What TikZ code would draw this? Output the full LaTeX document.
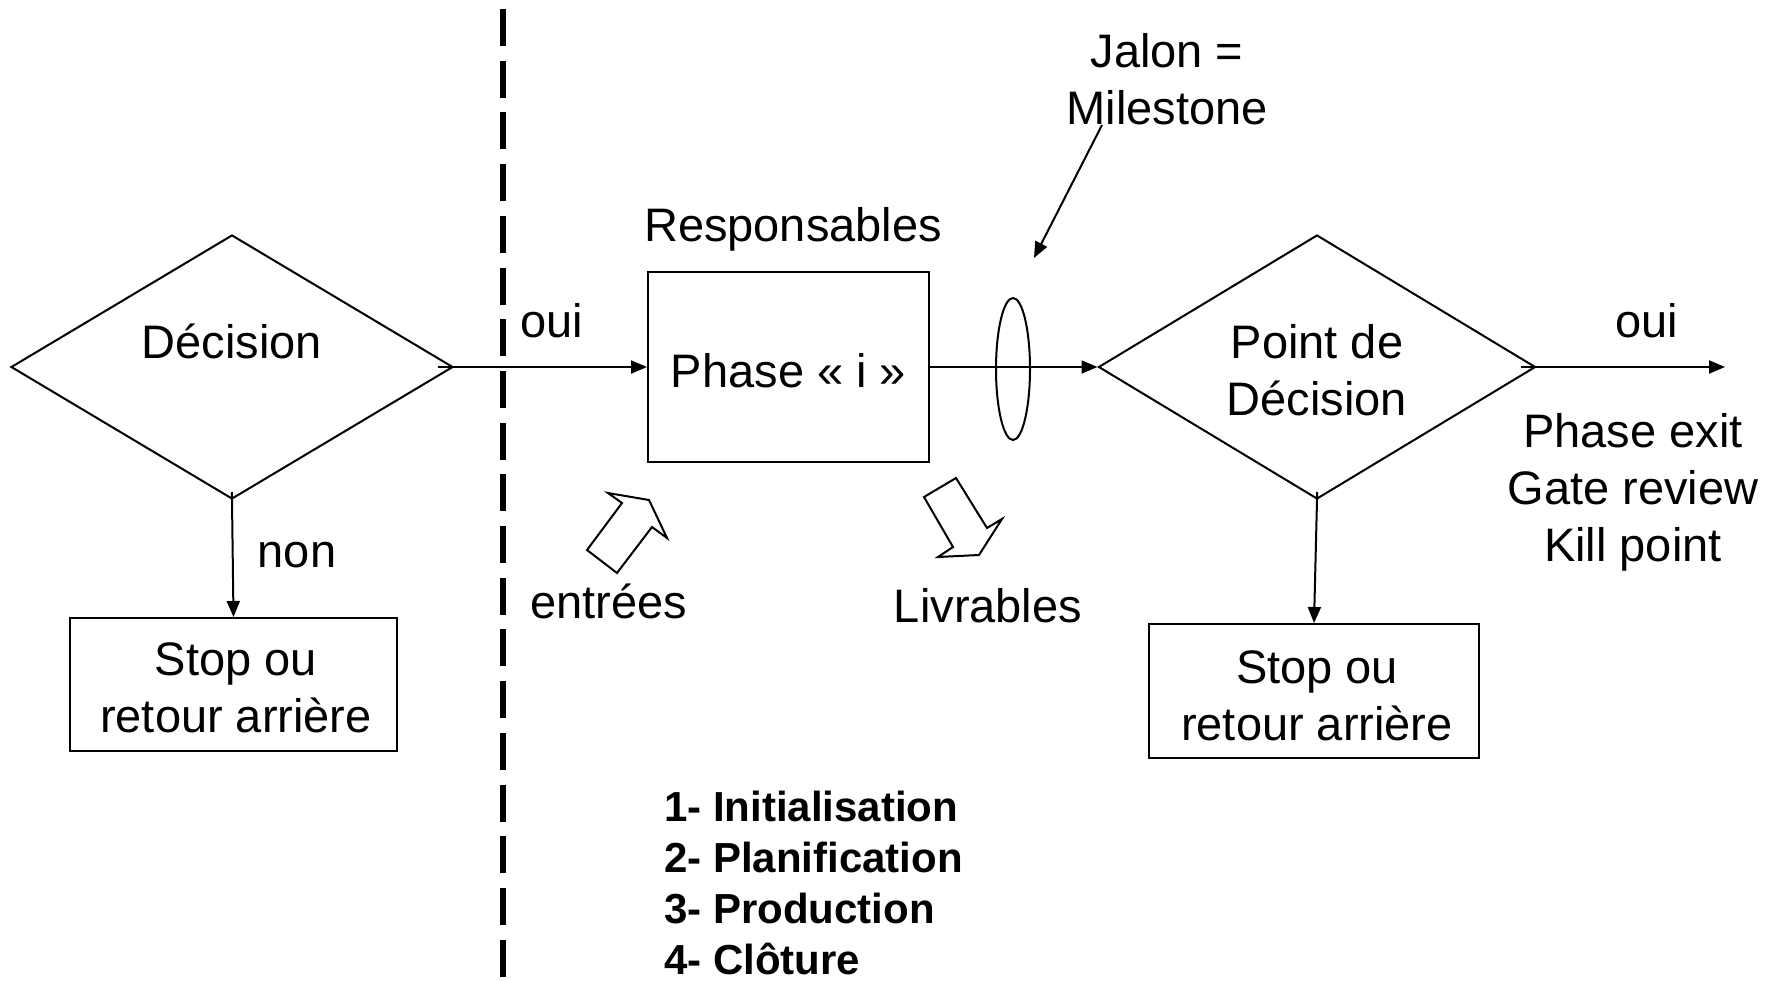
\documentclass[tikz,border=0pt]{standalone}
\usepackage{fontspec}
\setmainfont{Liberation Sans}
\usetikzlibrary{shapes.geometric,arrows.meta}
\begin{document}
\begin{tikzpicture}[x=1pt,y=-1pt,
  every node/.style={inner sep=0pt},
  lbl/.style={font=\fontsize{47}{57}\selectfont, align=center},
  listitem/.style={font=\fontsize{42}{51}\selectfont\bfseries, anchor=base west},
  decision/.style={draw, line width=2pt, diamond, minimum width=#1, minimum height=264pt},
  boxnode/.style={draw, line width=2pt, rectangle},
  conn/.style={line width=2pt, -{Triangle[length=16pt,width=13pt]}},
  blockarrow/.style={draw, line width=2pt, fill=white, line join=miter},
  separator/.style={line width=6pt, dash pattern=on 37pt off 14.7pt}
]
\useasboundingbox (0,0) rectangle (1777,980);

% vertical separator
\coordinate (septop) at (503,9);
\coordinate (sepbot) at (503,980);
\draw[separator] (septop) -- (sepbot);

% left decision
\node[decision=442pt] (d1) at (232,367) {};
\node[lbl] (d1t) at (232,341) {Décision};
\node[boxnode, minimum width=327pt, minimum height=133pt] (s1) at (233.5,684.5) {};
\node[lbl] (s1t) at (236,688) {Stop ou\\retour arrière};
\node[lbl] (non) at (297,555) {non};

% phase box
\node[boxnode, minimum width=281pt, minimum height=190pt] (ph) at (788.5,367) {};
\node[lbl] (pht) at (788.5,370.5) {Phase « i »};
\node[lbl] (resp) at (793,229) {Responsables};
\node[lbl] (oui1) at (552,321) {oui};

% milestone
\node[draw, ellipse, line width=2pt, minimum width=34pt, minimum height=142pt] (jal) at (1013,369) {};
\node[lbl] (jalon) at (1167,79) {Jalon =\\Milestone};
\coordinate (ms0) at (1102,125);
\coordinate (ms1) at (1034,258);

% right decision
\node[decision=437pt] (d2) at (1317,367) {};
\node[lbl] (d2t) at (1317,370) {Point de\\Décision};
\node[boxnode, minimum width=330pt, minimum height=134pt] (s2) at (1314,691) {};
\node[lbl] (s2t) at (1317,696) {Stop ou\\retour arrière};
\node[lbl] (oui2) at (1647,321) {oui};
\node[lbl] (gate) at (1633,492) {Phase exit\\Gate review\\Kill point};
\coordinate (out) at (1725,367);

% inputs / deliverables
\draw[blockarrow] (587,550) -- (617,573) -- (652,527) -- (667,538) -- (649,500) -- (608,493) -- (622,503) -- cycle;
\draw[blockarrow] (924,497) -- (956,478) -- (987,528) -- (1002,519) -- (979,555) -- (938,557) -- (953,547) -- cycle;
\node[lbl] (entr) at (609,601) {entrées};
\node[lbl] (livr) at (988,606) {Livrables};

% steps
\node[listitem] (l1) at (664,821) {1- Initialisation};
\node[listitem] (l2) at (664,872) {2- Planification};
\node[listitem] (l3) at (664,923) {3- Production};
\node[listitem] (l4) at (664,974) {4- Clôture};

% connectors
\draw[conn, shorten <=-16pt] (d1.east) -- (ph.west);
\draw[conn, shorten <=-8pt] (d1.south) -- (s1.north);
\draw[conn] (ph.east) -- (d2.west);
\draw[conn] (ms0) -- (ms1);
\draw[conn, shorten <=-16pt] (d2.east) -- (out);
\draw[conn, shorten <=-8pt] (d2.south) -- (s2.north);
\end{tikzpicture}
\end{document}
